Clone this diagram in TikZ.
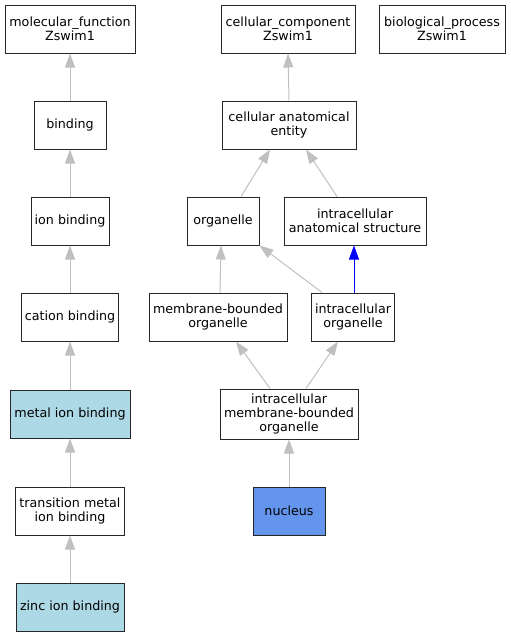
\documentclass[tikz,border=0pt]{standalone}
\usepackage{fontspec}
\setmainfont{DejaVu Sans}
\usetikzlibrary{arrows.meta}

\definecolor{metalblue}{RGB}{173,216,230}
\definecolor{nucblue}{RGB}{100,149,237}
\definecolor{isagray}{RGB}{192,192,192}

\tikzset{
  term/.style = {draw = black!85, line width = 1pt, fill = white, align = center,
    minimum height = 48pt, inner xsep = 3pt, inner ysep = 0pt,
    font = \fontsize{12.7}{14.4}\selectfont},
  isa/.style = {draw = isagray, line width = 1pt,
    -{Triangle[length = 14pt, width = 10pt]}, isagray},
  partof/.style = {draw = blue, line width = 1pt,
    -{Triangle[length = 14pt, width = 10pt]}, blue}
}

\begin{document}
\begin{tikzpicture}[x = 1pt, y = -1pt]
\useasboundingbox (0,0) rectangle (511,637);
% Roots
\node[term, minimum width = 130pt] (mf) at (70,29) {molecular\_function\\Zswim1};
\node[term, minimum width = 134pt] (cc) at (288,29) {cellular\_component\\Zswim1};
\node[term, minimum width = 126pt] (bp) at (442,29) {biological\_process\\Zswim1};
% Function branch
\node[term, minimum width = 72pt] (bind) at (70,125) {binding};
\node[term, minimum width = 78pt] (ion) at (70,221) {ion binding};
\node[term, minimum width = 97pt] (cation) at (70,317) {cation binding};
\node[term, minimum width = 120pt, fill = metalblue] (metal) at (70,414) {metal ion binding};
\node[term, minimum width = 109pt] (trans) at (70,511) {transition metal\\ion binding};
\node[term, minimum width = 108pt, fill = metalblue] (zinc) at (70,607) {zinc ion binding};
% Component branch
\node[term, minimum width = 134pt] (cae) at (289,125) {cellular anatomical\\entity};
\node[term, minimum width = 72pt] (org) at (223,221) {organelle};
\node[term, minimum width = 142pt] (ias) at (355,221) {intracellular\\anatomical structure};
\node[term, minimum width = 138pt] (mbo) at (218,317) {membrane-bounded\\organelle};
\node[term, minimum width = 83pt] (io) at (353,317) {intracellular\\organelle};
\node[term, minimum width = 138pt, minimum height = 50pt] (imbo) at (289,414) {intracellular\\membrane-bounded\\organelle};
\node[term, minimum width = 72pt, fill = nucblue] (nuc) at (289,511) {nucleus};

% Edges, function branch
\draw[isa] (bind.north) -- (mf.south);
\draw[isa] (ion.north) -- (bind.south);
\draw[isa] (cation.north) -- (ion.south);
\draw[isa] (metal.north) -- (cation.south);
\draw[isa] (trans.north) -- (metal.south);
\draw[isa] (zinc.north) -- (trans.south);
% Edges, component branch
\draw[isa] (cae.north) -- (cc.south);
\draw[isa] ([xshift = 18pt]org.north) -- ([xshift = -19pt]cae.south);
\draw[isa] ([xshift = -18pt]ias.north) -- ([xshift = 17pt]cae.south);
\draw[isa] ([xshift = 2pt]mbo.north) -- ([xshift = -2pt]org.south);
\draw[isa] ([xshift = -31pt]io.north) -- (org.south east);
\draw[partof] ([xshift = 1pt]io.north) -- ([xshift = -1pt]ias.south);
\draw[isa] ([xshift = -19pt]imbo.north) -- ([xshift = 18pt]mbo.south);
\draw[isa] ([xshift = 17pt]imbo.north) -- ([xshift = -15pt]io.south);
\draw[isa] (nuc.north) -- (imbo.south);
\end{tikzpicture}
\end{document}
